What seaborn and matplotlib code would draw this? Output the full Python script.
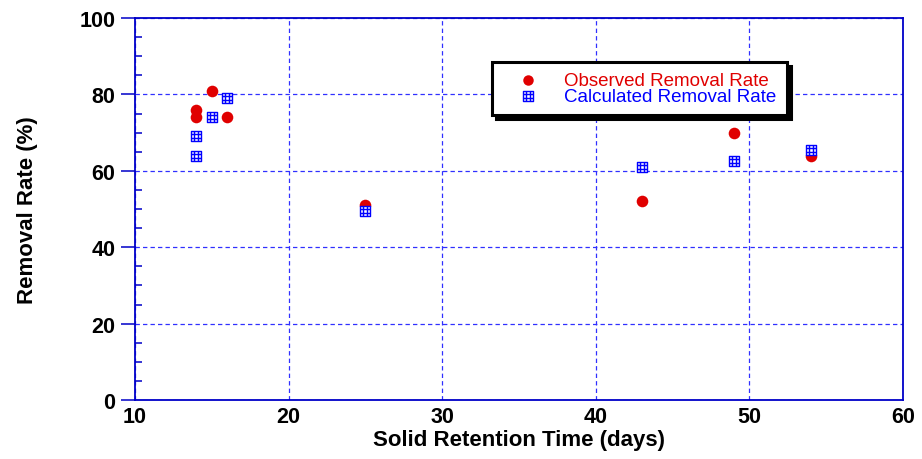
import matplotlib
matplotlib.use("Agg")
import matplotlib.pyplot as plt
import numpy as np
import pandas as pd
import seaborn as sns
from matplotlib.path import Path
from matplotlib.ticker import MultipleLocator

# Solid retention time (days) and removal rates (%)
srt_days = [14, 14, 15, 16, 25, 43, 49, 54]
observed_rate = [76, 74, 81, 74, 51, 52, 70, 64]
calculated_rate = [69, 64, 74, 79, 49.5, 61, 62.5, 65.5]

series_labels = ["Observed Removal Rate", "Calculated Removal Rate"]
x_ticks = [10, 20, 30, 40, 50, 60]
y_ticks = [0, 20, 40, 60, 80, 100]

obs_df = pd.DataFrame({"srt": srt_days, "rate": observed_rate})
calc_df = pd.DataFrame({"srt": srt_days, "rate": calculated_rate})

sns.set_theme(style="white")
plt.rcParams["font.family"] = ["Liberation Sans", "DejaVu Sans"]

axis_blue = "#0000c8"
grid_blue = "#3030ff"

# square marker with a 3x3 grid inside
h = 0.5
t = h / 3
verts = [(-h, -h), (h, -h), (h, h), (-h, h), (-h, -h),
         (-t, -h), (-t, h), (t, -h), (t, h),
         (-h, -t), (h, -t), (-h, t), (h, t)]
codes = [Path.MOVETO, Path.LINETO, Path.LINETO, Path.LINETO, Path.CLOSEPOLY,
         Path.MOVETO, Path.LINETO, Path.MOVETO, Path.LINETO,
         Path.MOVETO, Path.LINETO, Path.MOVETO, Path.LINETO]
grid_square = Path(verts, codes)

fig = plt.figure(figsize=(9.22, 4.6), dpi=100)
ax = fig.add_axes([135 / 922, 1 - 401 / 460, 768 / 922, 382 / 460])

sns.scatterplot(data=obs_df, x="srt", y="rate", ax=ax, marker="o", s=70,
                color="#e00000", edgecolor="#e00000", linewidth=0,
                label=series_labels[0], zorder=3)
sns.scatterplot(data=calc_df, x="srt", y="rate", ax=ax, marker=grid_square,
                s=58, facecolor="white", edgecolor="#0000ff", linewidth=1.0,
                label=series_labels[1], zorder=4)

ax.set_xlim(10, 60)
ax.set_ylim(0, 100)
ax.set_xticks(x_ticks)
ax.set_yticks(y_ticks)
ax.yaxis.set_minor_locator(MultipleLocator(5))

ax.grid(True, which="major", color=grid_blue, linestyle=(0, (3.5, 2.5)),
        linewidth=0.9)
ax.set_axisbelow(True)

for side in ["left", "right", "top", "bottom"]:
    ax.spines[side].set_visible(True)
    ax.spines[side].set_color(axis_blue)
    ax.spines[side].set_linewidth(1.3)

ax.tick_params(axis="y", which="major", direction="out", length=10,
               width=1.1, color=axis_blue, pad=4, left=True)
ax.tick_params(axis="y", which="minor", direction="in", length=5,
               width=1.1, color=axis_blue, left=True)
ax.tick_params(axis="x", which="major", length=0, pad=4)

for lbl in ax.get_xticklabels() + ax.get_yticklabels():
    lbl.set_fontsize(15.5)
    lbl.set_fontweight("bold")
    lbl.set_color("black")

ax.set_xlabel("Solid Retention Time (days)", fontsize=16, fontweight="bold",
              labelpad=2, color="black")
ax.set_ylabel("Removal Rate (%)", fontsize=16, fontweight="bold",
              labelpad=30, color="black")

leg = ax.legend(loc="upper left", bbox_to_anchor=(0.465, 0.885),
                borderaxespad=0, frameon=True, fancybox=False,
                shadow={"color": "black", "alpha": 1, "ox": 3, "oy": -3},
                prop={"size": 13.5}, labelspacing=-0.08, handletextpad=0.6,
                borderpad=0.55, handlelength=2.7, markerscale=0.9)
frame = leg.get_frame()
frame.set_edgecolor("black")
frame.set_linewidth(2.2)
frame.set_facecolor("white")
frame.set_alpha(1)
for txt, col in zip(leg.get_texts(), ["#e00000", "#0000ff"]):
    txt.set_color(col)

fig.savefig("out.png", dpi=100)
